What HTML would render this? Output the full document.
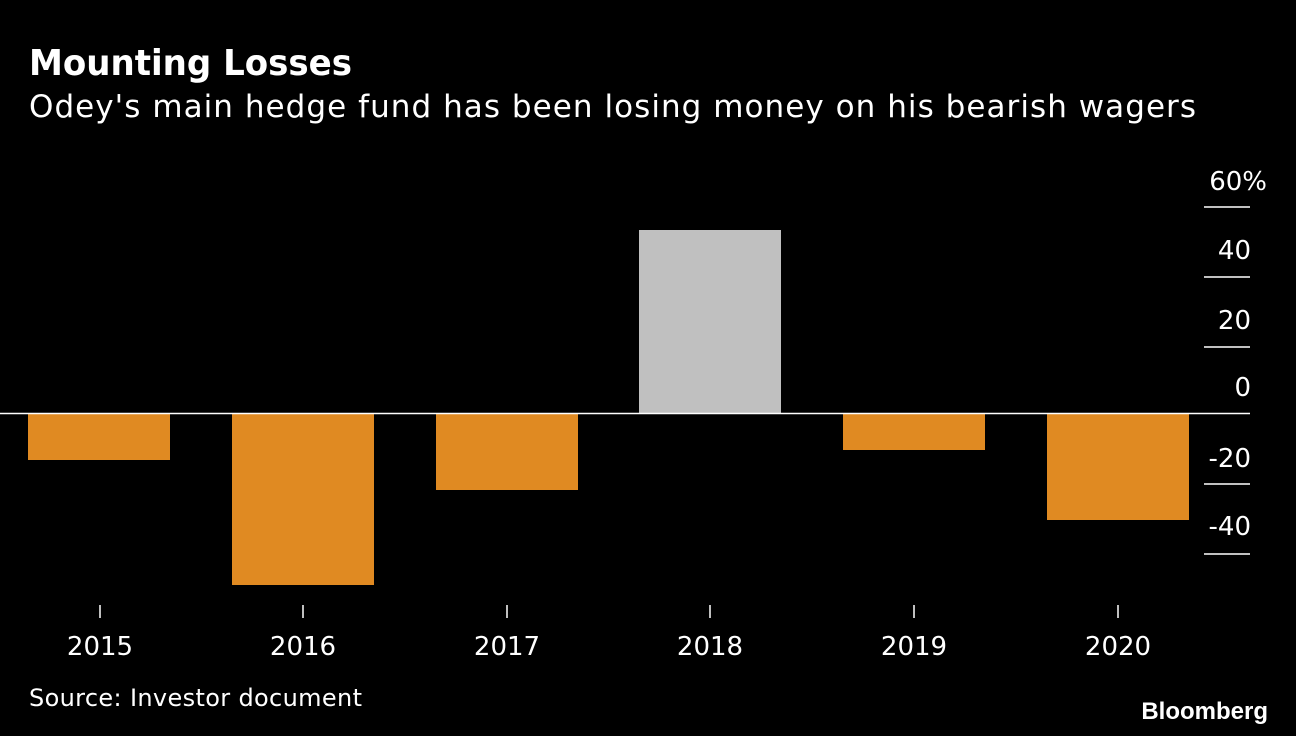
<!DOCTYPE html>
<html><head><style>
body{margin:0;background:#000;width:1296px;height:736px;overflow:hidden;font-family:"Liberation Sans","DejaVu Sans",sans-serif;}
svg{display:block}
</style></head><body>
<svg width="1296" height="736" xmlns="http://www.w3.org/2000/svg">
<rect width="1296" height="736" fill="#000"/>
<text x="29" y="75" fill="#fff" font-size="36" font-weight="bold" font-family="DejaVu Sans, sans-serif" textLength="323" lengthAdjust="spacingAndGlyphs">Mounting Losses</text>
<text x="29" y="117" fill="#fff" font-size="31" font-family="DejaVu Sans, sans-serif" textLength="1167">Odey's main hedge fund has been losing money on his bearish wagers</text>
<g fill="#e08a22">
<rect x="28" y="414" width="142" height="46"/>
<rect x="232" y="414" width="142" height="171"/>
<rect x="436" y="414" width="142" height="76"/>
<rect x="843" y="414" width="142" height="36"/>
<rect x="1047" y="414" width="142" height="106"/>
</g>
<rect x="639" y="230" width="142" height="184" fill="#c0c0c0"/>
<line x1="0" y1="413.5" x2="1250" y2="413.5" stroke="#fff" stroke-width="1.5"/>
<g stroke="#fff" stroke-width="1.5">
<line x1="1204" y1="207" x2="1250" y2="207"/>
<line x1="1204" y1="277" x2="1250" y2="277"/>
<line x1="1204" y1="347" x2="1250" y2="347"/>
<line x1="1204" y1="484" x2="1250" y2="484"/>
<line x1="1204" y1="554" x2="1250" y2="554"/>
<line x1="100" y1="605" x2="100" y2="618"/>
<line x1="303" y1="605" x2="303" y2="618"/>
<line x1="507" y1="605" x2="507" y2="618"/>
<line x1="710" y1="605" x2="710" y2="618"/>
<line x1="914" y1="605" x2="914" y2="618"/>
<line x1="1118" y1="605" x2="1118" y2="618"/>
</g>
<g fill="#fff" font-size="26" font-family="DejaVu Sans, sans-serif" text-anchor="end">
<text x="1267" y="190">60%</text>
<text x="1251" y="259">40</text>
<text x="1251" y="329">20</text>
<text x="1251" y="396">0</text>
<text x="1251" y="467">-20</text>
<text x="1251" y="535">-40</text>
</g>
<g fill="#fff" font-size="26" font-family="DejaVu Sans, sans-serif" text-anchor="middle">
<text x="100" y="655">2015</text>
<text x="303" y="655">2016</text>
<text x="507" y="655">2017</text>
<text x="710" y="655">2018</text>
<text x="914" y="655">2019</text>
<text x="1118" y="655">2020</text>
</g>
<text x="29" y="706" fill="#fff" font-size="24" font-family="DejaVu Sans, sans-serif" textLength="333">Source: Investor document</text>
<text x="1268" y="719" fill="#fff" font-size="24" font-weight="bold" text-anchor="end" font-family="Liberation Sans, sans-serif">Bloomberg</text>
</svg>
</body></html>
